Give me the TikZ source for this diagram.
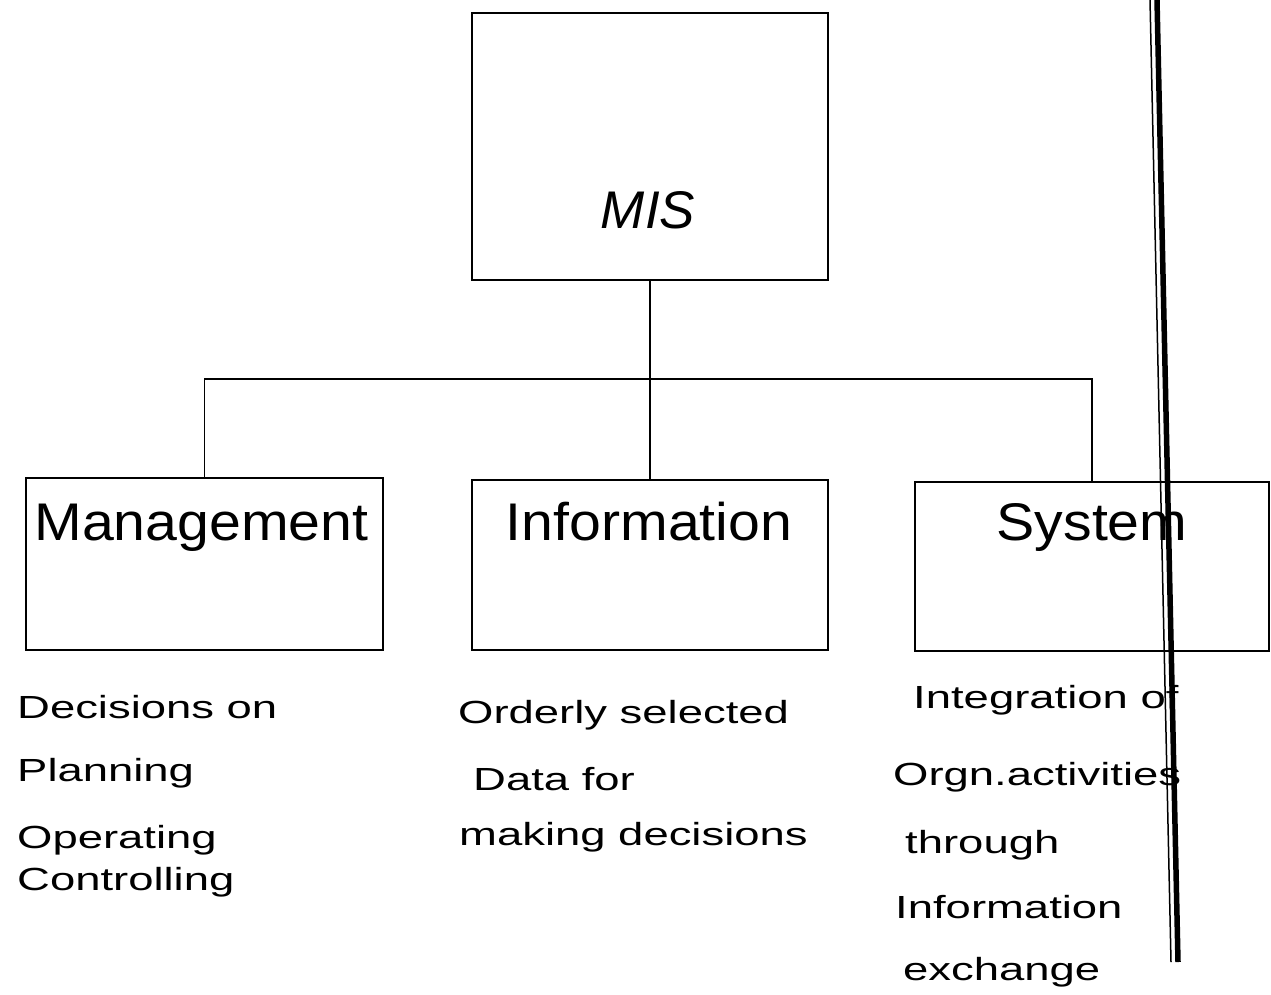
\documentclass[tikz,border=0pt]{standalone}
\usepackage{fontspec}
\setmainfont{Liberation Sans}
\newfontfamily\labelfont[FakeStretch=1.08]{Liberation Sans}
\newfontfamily\notefont[FakeStretch=1.42]{Liberation Sans}
\begin{document}
\begin{tikzpicture}[x=1pt,y=-1pt,
  box/.style={draw, line width=1.9pt, inner sep=0pt},
  link/.style={draw, line width=1.9pt},
  boxlabel/.style={font=\labelfont\fontsize{53}{60}\selectfont, inner sep=0pt, anchor=base},
  note/.style={font=\notefont\fontsize{32}{38}\selectfont, inner sep=0pt, anchor=base west},
  scanline/.style={line cap=butt}]
\useasboundingbox (0,0) rectangle (1271,994);

% top box
\node[box, minimum width=356pt, minimum height=267pt] (mis) at (650,146.5) {};
\node[boxlabel, font=\fontsize{53}{60}\selectfont\itshape] (mislabel) at (648,228) {MIS};

% three component boxes
\node[box, minimum width=357pt, minimum height=172pt] (mgmt) at (204.5,564) {};
\node[box, minimum width=356pt, minimum height=170pt] (info) at (650,565) {};
\node[box, minimum width=354pt, minimum height=169pt] (sys) at (1092,566.5) {};

\node[boxlabel] (mgmtlabel) at (201.5,540) {Management};
\node[boxlabel] (infolabel) at (649,540) {Information};
\node[boxlabel] (syslabel) at (1092,540) {System};

% tree connectors
\coordinate (bus) at (650,379);
\draw[link] (mis.south) -- (info.north);
\draw[link] (mgmt.north) |- (bus) -| (sys.north);

% descriptions under each box
\node[note] (d1) at (17,718) {Decisions on};
\node[note] (d2) at (17,781) {Planning};
\node[note] (d3) at (17,848) {Operating};
\node[note] (d4) at (17,890) {Controlling};

\node[note] (i1) at (458,723) {Orderly selected};
\node[note] (i2) at (473,790) {Data for};
\node[note] (i3) at (459,845) {making decisions};

\node[note] (s1) at (913,708) {Integration of};
\node[note] (s2) at (893,785) {Orgn.activities};
\node[note] (s3) at (905,853) {through};
\node[note] (s4) at (895,918) {Information};
\node[note] (s5) at (903,980) {exchange};

% vertical fold mark on the right
\coordinate (foldtop) at (1157,0);
\coordinate (foldbot) at (1178,962);
\coordinate (foldtopb) at (1150,0);
\coordinate (foldbotb) at (1171,962);
\draw[scanline, line width=5.5pt] (foldtop) -- (foldbot);
\draw[scanline, line width=1.5pt] (foldtopb) -- (foldbotb);
\end{tikzpicture}
\end{document}
